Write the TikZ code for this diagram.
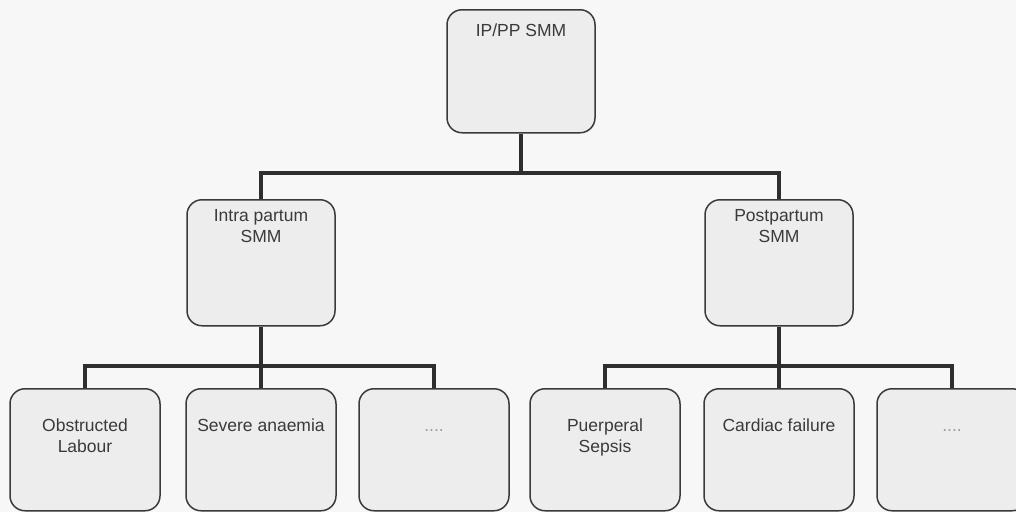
\documentclass[tikz,border=0pt]{standalone}
\usepackage{fontspec}
\setmainfont{Liberation Sans}
\definecolor{paper}{HTML}{F7F7F7}
\definecolor{boxfill}{HTML}{EDEDED}
\definecolor{boxline}{HTML}{3A3A3A}
\definecolor{linkline}{HTML}{2E2E2E}
\definecolor{inktext}{HTML}{3A3A3A}
\definecolor{dotgray}{HTML}{9A9A9A}
% top-aligned box label: width, height, gap above the first line, text
\newcommand\boxlabel[4]{%
  \parbox[t][#2pt][t]{#1pt}{\centering\vspace*{#3pt}%
    \fontsize{17.5}{20.5}\selectfont\rule{0pt}{12.6pt}#4\par}}
\begin{document}
\begin{tikzpicture}[x=1pt,y=-1pt,
  box/.style={draw=boxline, line width=1.5pt, fill=boxfill,
    rounded corners=15pt, inner sep=0pt, text=inktext},
  conn/.style={draw=linkline, line width=4pt, line join=miter, line cap=butt}]
  % page
  \fill[paper] (0,0) rectangle (1016,512);
  \useasboundingbox (0,0) rectangle (1016,512);

  % root
  \node[box, anchor=north] (root) at (521,9)
    {\boxlabel{148}{123}{14.5}{IP/PP SMM}};

  % second level
  \node[box, anchor=north] (intra) at (261,199)
    {\boxlabel{148}{126}{9.5}{Intra partum\\SMM}};
  \node[box, anchor=north] (post) at (779,199)
    {\boxlabel{148}{126}{9.5}{Postpartum\\SMM}};

  % leaves
  \node[box, anchor=north] (obst) at (85,388)
    {\boxlabel{150}{122}{30.5}{Obstructed\\Labour}};
  \node[box, anchor=north] (anaem) at (261,388)
    {\boxlabel{150}{122}{30.5}{Severe anaemia}};
  \node[box, anchor=north] (moreA) at (434,388)
    {\boxlabel{150}{122}{30.5}{\color{dotgray}....}};
  \node[box, anchor=north] (sepsis) at (605,388)
    {\boxlabel{150}{122}{30.5}{Puerperal\\Sepsis}};
  \node[box, anchor=north] (cardiac) at (779,388)
    {\boxlabel{150}{122}{30.5}{Cardiac failure}};
  \node[box, anchor=north] (moreB) at (952,388)
    {\boxlabel{150}{122}{30.5}{\color{dotgray}....}};

  % bus levels
  \coordinate (busTop) at (0,173);
  \coordinate (busLow) at (0,366);

  % root to second level
  \draw[conn] (root.south) -- (root.south |- busTop);
  \draw[conn] (intra.north) |- (busTop -| post.north) -- (post.north);

  % intra partum branch
  \draw[conn] (intra.south) -- (anaem.north);
  \draw[conn] (obst.north) |- (busLow -| moreA.north) -- (moreA.north);

  % postpartum branch
  \draw[conn] (post.south) -- (cardiac.north);
  \draw[conn] (sepsis.north) |- (busLow -| moreB.north) -- (moreB.north);
\end{tikzpicture}
\end{document}
